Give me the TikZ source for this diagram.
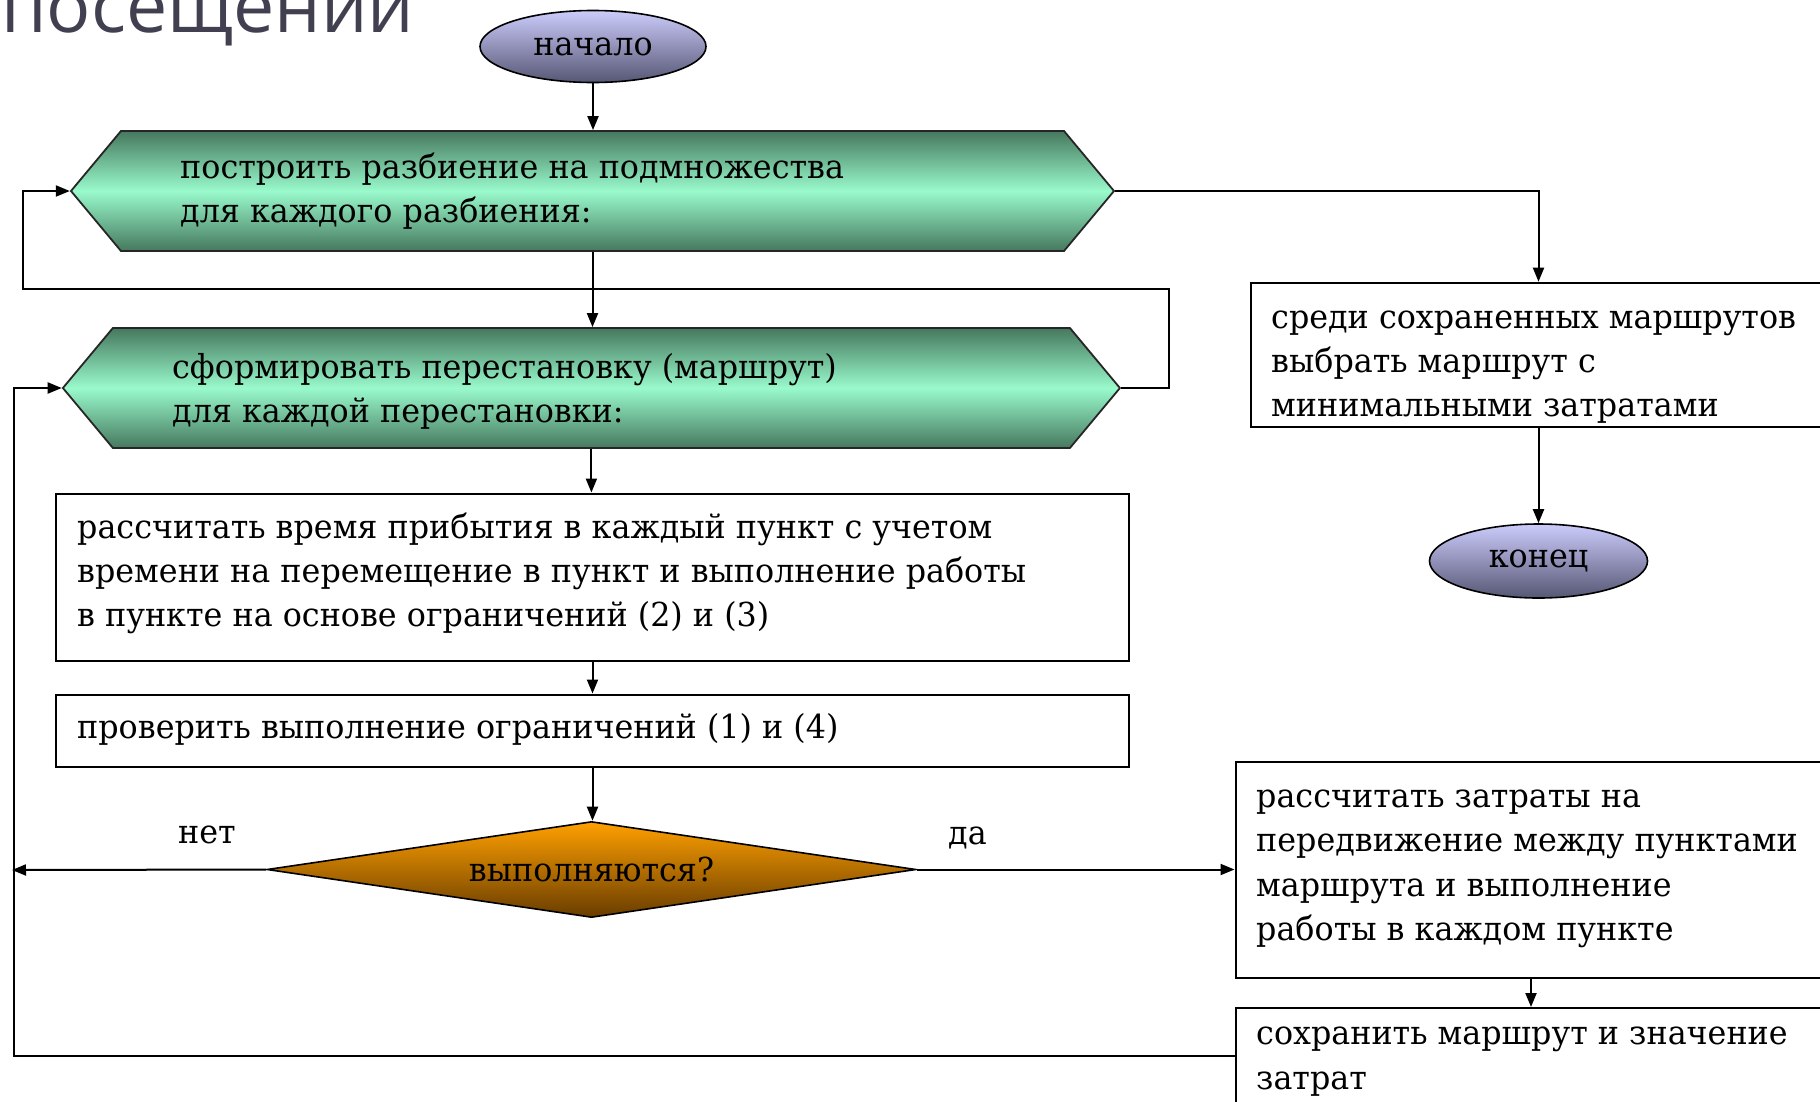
\documentclass[tikz,border=0pt]{standalone}
\usepackage{fontspec}
\setmainfont{DejaVu Serif}[FakeStretch=0.963]
\newfontfamily\titlefont{Open Sans}
\usetikzlibrary{shapes.geometric,shapes.symbols,arrows.meta,calc}
\definecolor{lav}{RGB}{204,204,252}
\definecolor{slate}{RGB}{86,86,116}
\definecolor{hexdark}{RGB}{70,120,94}
\definecolor{hexmint}{RGB}{153,250,204}
\definecolor{orng}{RGB}{255,160,0}
\definecolor{brwn}{RGB}{104,60,0}
\definecolor{titlegray}{RGB}{64,64,80}
\newcommand{\mainsz}{\fontsize{33}{44.5}\selectfont}
\tikzset{
  box/.style={rectangle, draw=black, line width=2pt, fill=white, inner sep=0pt},
  term/.style={ellipse, draw=black, line width=1.6pt, top color=lav, bottom color=slate,
               inner sep=0pt, font=\mainsz},
  hexa/.style={signal, signal to=west and east, signal pointer angle=100.4,
               draw=black!85, line width=1.8pt, top color=hexdark, bottom color=hexdark,
               middle color=hexmint, inner sep=0pt, minimum height=120pt},
  cond/.style={diamond, draw=black, line width=1.6pt, top color=orng, bottom color=brwn,
               inner sep=0pt, font=\mainsz},
  txt/.style={anchor=base west, inner sep=0pt, font=\mainsz},
  flow/.style={line width=2pt, -{Triangle[length=14pt,width=11pt]}},
}
\begin{document}
\begin{tikzpicture}[x=1pt,y=-1pt]
\useasboundingbox (0,0) rectangle (1820,1101);
\clip (0,0) rectangle (1820,1101);
\fill[white] (0,0) rectangle (1820,1101);

% title (cut off at top)
\node[anchor=base west, inner sep=0pt, font=\titlefont\fontsize{73.5}{78}\selectfont, text=titlegray]
  (title) at (1,32) {посещений};

% terminals
\node[term, minimum width=226pt, minimum height=72pt] (start) at (593,46.5) {начало};
\node[term, minimum width=218pt, minimum height=74pt] (stop) at (1538.5,561) {конец};

% loop hexagons
\node[hexa, minimum width=1043pt] (h1) at (592.5,191) {};
\node[hexa, minimum width=1057pt] (h2) at (591.4,388) {};
\node[txt] (h1a) at (180,178) {построить разбиение на подмножества};
\node[txt] (h1b) at (180,222) {для каждого разбиения:};
\node[txt] (h2a) at (172,378) {сформировать перестановку (маршрут)};
\node[txt] (h2b) at (172,422) {для каждой перестановки:};

% process boxes
\node[box, minimum width=1073pt, minimum height=167pt] (b3) at (592.5,577) {};
\node[txt] (b3a) at (77,538) {рассчитать время прибытия в каждый пункт с учетом};
\node[txt] (b3b) at (77,582) {времени на перемещение в пункт и выполнение работы};
\node[txt] (b3c) at (77,626) {в пункте на основе ограничений (2) и (3)};

\node[box, minimum width=1073pt, minimum height=72pt] (b4) at (592.5,730.5) {};
\node[txt] (b4a) at (77,738) {проверить выполнение ограничений (1) и (4)};

% decision
\node[cond, minimum width=649pt, minimum height=96pt, aspect=6.76] (dec) at (591.5,869.5) {выполняются?};
\node[txt] (no) at (178,843) {нет};
\node[txt] (yes) at (948,844) {да};

% right column
\node[box, minimum width=576pt, minimum height=144pt] (sel) at (1538.5,354.7) {};
\node[txt] (sela) at (1271,328) {среди сохраненных маршрутов};
\node[txt] (selb) at (1271,372) {выбрать маршрут с};
\node[txt] (selc) at (1271,416) {минимальными затратами};

\node[box, minimum width=591pt, minimum height=216pt] (b5) at (1531,870) {};
\node[txt] (b5a) at (1256,807) {рассчитать затраты на};
\node[txt] (b5b) at (1256,851.5) {передвижение между пунктами};
\node[txt] (b5c) at (1256,896) {маршрута и выполнение};
\node[txt] (b5d) at (1256,940.5) {работы в каждом пункте};

\node[box, minimum width=591pt, minimum height=150pt] (b6) at (1531,1083) {};
\node[txt] (b6a) at (1256,1044.5) {сохранить маршрут и значение};
\node[txt] (b6b) at (1256,1089) {затрат};

% free ends of connectors
\coordinate (r1) at (1169,289);
\coordinate (l1) at (23,289);
\coordinate (l2) at (14,1056);
\coordinate (noend) at (12,870);

% connectors
\draw[flow] (start.south) -- (start.south |- h1.north);
\draw[flow] (h1.south) -- (h1.south |- h2.north);
\draw[flow] (h2.east) -| (r1) -- (l1) |- (h1.west);
\draw[flow] (h1.east) -| (sel.north);
\draw[flow] (sel.south) -- (stop.north);
\draw[flow] (h2.south) -- (h2.south |- b3.north);
\draw[flow] (b3.south) -- (b4.north);
\draw[flow] (b4.south) -- (b4.south |- dec.north);
\draw[flow] (dec.west) -- (noend);
\draw[flow] (dec.east) -- (dec.east -| b5.west);
\draw[flow] (b5.south) -- (b6.north);
\draw[flow] (l2 -| b6.west) -- (l2) |- (h2.west);
\end{tikzpicture}
\end{document}
